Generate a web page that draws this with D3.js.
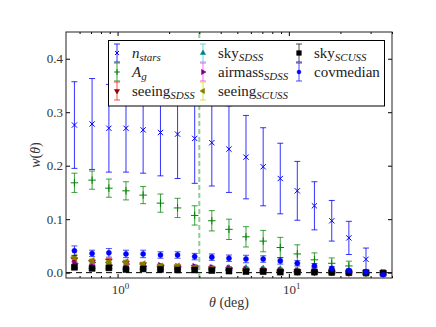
<!DOCTYPE html>
<html>
<head>
<meta charset="utf-8">
<script src="https://cdn.jsdelivr.net/npm/d3@7"></script>
<style>
body { margin: 0; background: #fff; }
</style>
</head>
<body>
<script>
// 角度 (deg)
const theta = [0.56, 0.71, 0.89, 1.12, 1.41, 1.78, 2.24, 2.82, 3.55, 4.47, 5.62, 7.08, 8.91, 11.2, 14.1, 17.8, 22.4, 28.2, 35.5];

const nstars = [0.276, 0.278, 0.270, 0.270, 0.267, 0.262, 0.259, 0.251, 0.243, 0.231, 0.216, 0.198, 0.176, 0.153, 0.125, 0.097, 0.065, 0.025];
const nstarsErr = [0.081, 0.085, 0.082, 0.082, 0.081, 0.081, 0.083, 0.084, 0.081, 0.081, 0.078, 0.073, 0.066, 0.055, 0.045, 0.038, 0.031, 0.021];

const ag = [0.168, 0.173, 0.158, 0.153, 0.145, 0.130, 0.121, 0.107, 0.097, 0.081, 0.067, 0.059, 0.047, 0.035, 0.024, 0.0175, 0.0125, -0.001];
const agErr = [0.018, 0.017, 0.017, 0.017, 0.016, 0.017, 0.018, 0.018, 0.019, 0.019, 0.019, 0.020, 0.019, 0.017, 0.013, 0.010, 0.009, 0.005];

const seeingSDSS = [0.024, 0.020, 0.022, 0.018, 0.015, 0.012, 0.011, 0.010, 0.008, 0.006, 0.005, 0.004, 0.003, 0.002, 0.001, 0.001, 0.000, 0.000, 0.000];
const skySDSS = [0.012, 0.011, 0.011, 0.010, 0.010, 0.009, 0.009, 0.009, 0.008, 0.008, 0.008, 0.007, 0.006, 0.004, 0.003, 0.002, 0.001, 0.000, -0.001];
const airmassSDSS = [0.017, 0.019, 0.014, 0.016, 0.012, 0.013, 0.011, 0.011, 0.009, 0.008, 0.006, 0.005, 0.004, 0.003, 0.002, 0.001, 0.001, 0.000, 0.000];
const seeingSCUSS = [0.029, 0.022, 0.019, 0.020, 0.016, 0.012, 0.012, 0.009, 0.007, 0.005, 0.004, 0.003, 0.003, 0.002, 0.002, 0.001, 0.001, 0.000, 0.000];
const skySCUSS = [0.010, 0.008, 0.009, 0.006, 0.007, 0.006, 0.005, 0.005, 0.004, 0.003, 0.002, 0.002, 0.001, 0.001, 0.001, 0.0005, 0.000, 0.000, -0.001];
const smallErr = [0.004, 0.004, 0.004, 0.004, 0.004, 0.003, 0.003, 0.003, 0.003, 0.003, 0.003, 0.002, 0.002, 0.002, 0.002, 0.002, 0.002, 0.002, 0.002];

const covmedian = [0.041, 0.036, 0.037, 0.035, 0.035, 0.033, 0.033, 0.030, 0.029, 0.027, 0.0255, 0.0255, 0.022, 0.0175, 0.013, 0.008, 0.004, 0.001, -0.004];
const covErr = [0.009, 0.006, 0.008, 0.007, 0.007, 0.006, 0.006, 0.006, 0.006, 0.006, 0.007, 0.006, 0.006, 0.005, 0.004, 0.003, 0.003, 0.002, 0.002];

const xMajor = [1, 10];
const xMinor = [0.6, 0.7, 0.8, 0.9, 2, 3, 4, 5, 6, 7, 8, 9, 20, 30, 40];
const yTicks = [0, 0.1, 0.2, 0.3, 0.4];
const cutTheta = 3;

const FONT = '"Liberation Serif", "DejaVu Serif", serif';
const width = 436, height = 327;
const margin = { top: 32, right: 44, bottom: 49, left: 66 };

const x = d3.scaleLog().domain([0.5, 40]).range([margin.left, width - margin.right]);
const y = d3.scaleLinear().domain([-0.01, 0.45]).range([height - margin.bottom, margin.top]);

const svg = d3.select('body').append('svg')
    .attr('width', width)
    .attr('height', height);
svg.append('rect').attr('width', width).attr('height', height).attr('fill', '#fff');

// 标记形状
function markerPath(type, size) {
    switch (type) {
        case 'x': return d3.symbol(d3.symbolTimes, size)();
        case '+': return d3.symbol(d3.symbolPlus, size)();
        case 's': return d3.symbol(d3.symbolSquare, size)();
        case 'o': return d3.symbol(d3.symbolCircle, size)();
        default: return d3.symbol(d3.symbolTriangle, size)();
    }
}
const rotation = { 'v': 180, '^': 0, '>': 90, '<': -90 };

function drawMarker(g, type, color, size) {
    const stroked = type === 'x' || type === '+';
    return g.append('path')
        .attr('d', markerPath(type, size))
        .attr('transform', rotation[type] !== undefined ? `rotate(${rotation[type]})` : null)
        .attr('fill', stroked ? 'none' : color)
        .attr('stroke', color)
        .attr('stroke-width', stroked ? 1 : 0.5);
}

// 误差棒
function drawSeries(values, errs, opt) {
    const data = values.map((v, i) => ({ t: theta[i], v: v, e: errs[i] }));
    const g = svg.append('g').attr('class', 'series');
    const item = g.selectAll('g').data(data).join('g');
    item.append('line')
        .attr('x1', d => x(d.t)).attr('x2', d => x(d.t))
        .attr('y1', d => y(d.v - d.e)).attr('y2', d => y(d.v + d.e))
        .attr('stroke', opt.errColor).attr('stroke-opacity', opt.errAlpha);
    [-1, 1].forEach(s => {
        item.append('line')
            .attr('x1', d => x(d.t) - 3).attr('x2', d => x(d.t) + 3)
            .attr('y1', d => y(d.v + s * d.e)).attr('y2', d => y(d.v + s * d.e))
            .attr('stroke', opt.errColor).attr('stroke-opacity', opt.errAlpha);
    });
    item.each(function (d) {
        const m = d3.select(this).append('g').attr('transform', `translate(${x(d.t)},${y(d.v)})`);
        drawMarker(m, opt.marker, opt.color, opt.size);
    });
}

// 零线与分隔线
svg.append('line')
    .attr('x1', x.range()[0]).attr('x2', x.range()[1])
    .attr('y1', y(0)).attr('y2', y(0))
    .attr('stroke', '#000').attr('stroke-dasharray', '6,4');
svg.append('line')
    .attr('x1', x(cutTheta)).attr('x2', x(cutTheta))
    .attr('y1', y.range()[0]).attr('y2', y.range()[1])
    .attr('stroke', '#8fcf8f').attr('stroke-width', 2).attr('stroke-dasharray', '5,3');

const series = [
    { name: 'nstars', vals: nstars, errs: nstarsErr, color: 'blue', errColor: 'blue', errAlpha: 0.8, marker: 'x', size: 20 },
    { name: 'ag', vals: ag, errs: agErr, color: 'green', errColor: 'green', errAlpha: 0.75, marker: '+', size: 20 },
    { name: 'seeingSDSS', vals: seeingSDSS, errs: smallErr, color: '#8b0000', errColor: 'red', errAlpha: 0.7, marker: 'v', size: 20 },
    { name: 'skySDSS', vals: skySDSS, errs: smallErr, color: '#008080', errColor: '#00bfbf', errAlpha: 0.6, marker: '^', size: 20 },
    { name: 'airmassSDSS', vals: airmassSDSS, errs: smallErr, color: '#800080', errColor: '#ff00ff', errAlpha: 0.6, marker: '>', size: 20 },
    { name: 'seeingSCUSS', vals: seeingSCUSS, errs: smallErr, color: '#808000', errColor: '#d4d400', errAlpha: 0.7, marker: '<', size: 20 },
    { name: 'skySCUSS', vals: skySCUSS, errs: smallErr, color: '#000', errColor: '#000', errAlpha: 0.7, marker: 's', size: 36 },
    { name: 'covmedian', vals: covmedian, errs: covErr, color: 'blue', errColor: 'blue', errAlpha: 0.7, marker: 'o', size: 20 }
];
series.forEach(s => drawSeries(s.vals, s.errs, s));

// 坐标轴 (刻度朝内)
function noDomain(g) { g.select('.domain').remove(); }
const [x0, x1] = x.range();
const [yB, yT] = y.range();
svg.append('g').attr('transform', `translate(0,${yB})`)
    .call(d3.axisBottom(x).tickValues(xMajor).tickSizeInner(-4).tickSizeOuter(0).tickFormat('')).call(noDomain);
svg.append('g').attr('transform', `translate(0,${yB})`)
    .call(d3.axisBottom(x).tickValues(xMinor).tickSizeInner(-2).tickSizeOuter(0).tickFormat('')).call(noDomain);
svg.append('g').attr('transform', `translate(0,${yT})`)
    .call(d3.axisTop(x).tickValues(xMajor).tickSizeInner(-4).tickSizeOuter(0).tickFormat('')).call(noDomain);
svg.append('g').attr('transform', `translate(0,${yT})`)
    .call(d3.axisTop(x).tickValues(xMinor).tickSizeInner(-2).tickSizeOuter(0).tickFormat('')).call(noDomain);
svg.append('g').attr('transform', `translate(${x0},0)`)
    .call(d3.axisLeft(y).tickValues(yTicks).tickSizeInner(-4).tickSizeOuter(0).tickPadding(3).tickFormat(d3.format('.1f')))
    .call(noDomain)
    .call(g => g.selectAll('text').attr('font-size', 13).attr('fill', '#333'));
svg.append('g').attr('transform', `translate(${x1},0)`)
    .call(d3.axisRight(y).tickValues(yTicks).tickSizeInner(-4).tickSizeOuter(0).tickFormat('')).call(noDomain);
svg.selectAll('.tick line').attr('stroke', '#000');

// x 轴标签 10^n
const xLab = svg.append('g').attr('font-size', 13).attr('text-anchor', 'middle').attr('fill', '#333');
xMajor.forEach(v => {
    const t = xLab.append('text').attr('x', x(v) + 3).attr('y', yB + 16);
    t.append('tspan').text('10');
    t.append('tspan').attr('font-size', 9).attr('dy', -5).text(Math.round(Math.log10(v)));
});

// 边框
svg.append('rect')
    .attr('x', x0).attr('y', yT).attr('width', x1 - x0).attr('height', yB - yT)
    .attr('fill', 'none').attr('stroke', '#222');

// 轴标题
const xt = svg.append('text').attr('x', (x0 + x1) / 2).attr('y', 307).attr('text-anchor', 'middle').attr('font-size', 14).attr('fill', '#333');
xt.append('tspan').attr('font-style', 'italic').text('θ');
xt.append('tspan').text(' (deg)');
const yt = svg.append('text').attr('transform', `translate(40,${(yT + yB) / 2}) rotate(-90)`).attr('text-anchor', 'middle').attr('font-size', 14).attr('fill', '#333');
yt.append('tspan').attr('font-style', 'italic').text('w');
yt.append('tspan').text('(');
yt.append('tspan').attr('font-style', 'italic').text('θ');
yt.append('tspan').text(')');

// 图例
const legendItems = [
    { s: series[0], main: 'n', sub: 'stars', italicMain: true, col: 0, row: 0 },
    { s: series[1], main: 'A', sub: 'g', italicMain: true, col: 0, row: 1 },
    { s: series[2], main: 'seeing', sub: 'SDSS', col: 0, row: 2 },
    { s: series[3], main: 'sky', sub: 'SDSS', col: 1, row: 0 },
    { s: series[4], main: 'airmass', sub: 'SDSS', col: 1, row: 1 },
    { s: series[5], main: 'seeing', sub: 'SCUSS', col: 1, row: 2 },
    { s: series[6], main: 'sky', sub: 'SCUSS', col: 2, row: 0 },
    { s: series[7], main: 'covmedian', sub: '', col: 2, row: 1 }
];
const colX = [117, 203, 299];
const rowY = [53, 72, 91];
const legend = svg.append('g').attr('class', 'legend');
legend.append('rect')
    .attr('x', 108.5).attr('y', 40.5).attr('width', 276).attr('height', 65.5)
    .attr('fill', '#fff').attr('stroke', '#000');
legendItems.forEach(d => {
    const g = legend.append('g').attr('transform', `translate(${colX[d.col]},${rowY[d.row]})`);
    g.append('line').attr('y1', -9).attr('y2', 9).attr('stroke', d.s.errColor).attr('stroke-opacity', d.s.errAlpha);
    [-9, 9].forEach(v => g.append('line').attr('x1', -3).attr('x2', 3).attr('y1', v).attr('y2', v)
        .attr('stroke', d.s.errColor).attr('stroke-opacity', d.s.errAlpha));
    drawMarker(g, d.s.marker, d.s.color, d.s.marker === 's' ? 22 : 12);
    const t = g.append('text').attr('x', 15).attr('y', 5).attr('font-size', 15).attr('fill', '#222');
    t.append('tspan').attr('font-style', d.italicMain ? 'italic' : null).text(d.main);
    if (d.sub) t.append('tspan').attr('font-style', 'italic').attr('font-size', 11).attr('dy', 3).text(d.sub);
});

// 字体统一
svg.selectAll('text').attr('font-family', FONT).style('font-family', FONT);
</script>
</body>
</html>
